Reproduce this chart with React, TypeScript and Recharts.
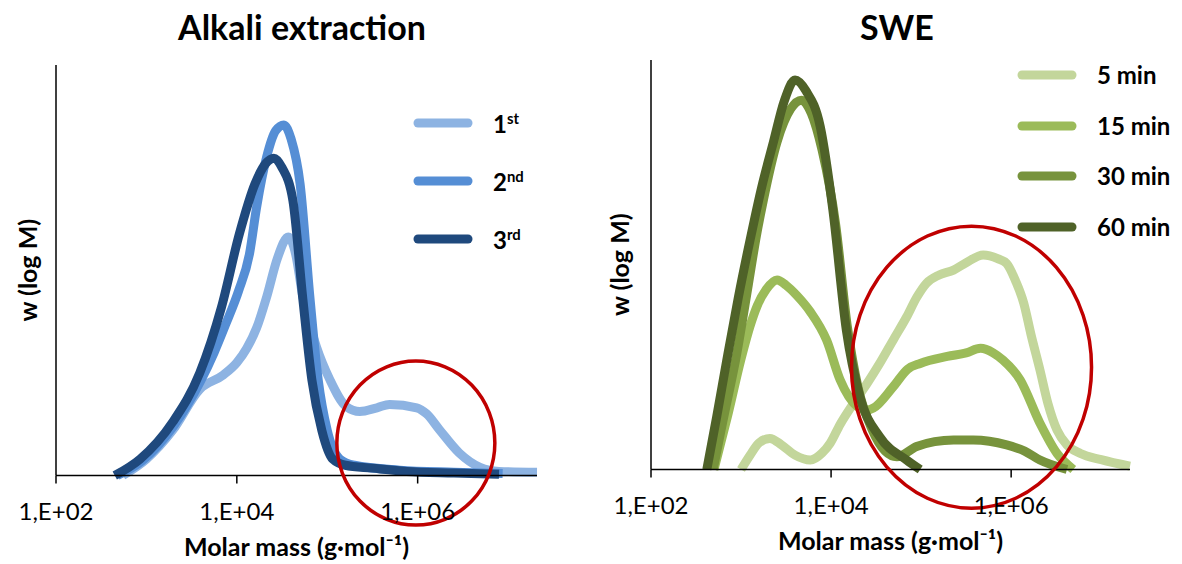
import React from 'react'
import { LineChart, Line, XAxis, YAxis, Legend, ReferenceDot, Label } from 'recharts'

// x = log10(M), y = w(log M) normalised to the axis height
const alk1st = [
  [2.74, 0], [3.0, 0.04], [3.29, 0.11], [3.59, 0.21], [3.85, 0.245], [4.0, 0.275], [4.11, 0.31],
  [4.22, 0.36], [4.33, 0.435], [4.45, 0.53], [4.57, 0.581], [4.65, 0.54], [4.73, 0.435],
  [4.88, 0.314], [5.03, 0.233], [5.21, 0.168], [5.36, 0.156], [5.55, 0.165], [5.69, 0.173],
  [5.99, 0.165], [6.1, 0.15], [6.24, 0.112], [6.46, 0.055], [6.69, 0.02], [6.9, 0.01], [7.32, 0.008],
]
const alk2nd = [
  [2.68, 0], [2.95, 0.035], [3.3, 0.12], [3.6, 0.23], [3.75, 0.3], [3.88, 0.37], [4.02, 0.45],
  [4.14, 0.54], [4.22, 0.655], [4.33, 0.776], [4.43, 0.84], [4.52, 0.854], [4.6, 0.82], [4.7, 0.71],
  [4.81, 0.43], [4.9, 0.233], [5.0, 0.11], [5.14, 0.04], [5.3, 0.025], [5.8, 0.013], [6.4, 0.008], [6.94, 0.005],
]
const alk3rd = [
  [2.65, 0], [2.93, 0.04], [3.29, 0.13], [3.59, 0.25], [3.83, 0.41], [4.03, 0.59], [4.2, 0.71],
  [4.32, 0.76], [4.41, 0.773], [4.5, 0.75], [4.62, 0.67], [4.73, 0.43], [4.83, 0.233], [4.94, 0.11],
  [5.06, 0.04], [5.2, 0.025], [5.5, 0.018], [5.88, 0.01], [6.4, 0.006], [6.9, 0.003],
]

const swe5 = [
  [3.0, 0], [3.1, 0.035], [3.2, 0.065], [3.32, 0.076], [3.45, 0.06], [3.6, 0.035], [3.77, 0.023],
  [3.9, 0.04], [3.99, 0.064], [4.1, 0.11], [4.25, 0.162], [4.4, 0.21], [4.54, 0.259], [4.7, 0.32],
  [4.84, 0.373], [4.95, 0.42], [5.06, 0.455], [5.2, 0.475], [5.36, 0.487], [5.5, 0.505], [5.69, 0.524],
  [5.85, 0.515], [5.95, 0.503], [6.05, 0.46], [6.14, 0.406], [6.22, 0.33], [6.32, 0.243], [6.41, 0.16],
  [6.51, 0.096], [6.62, 0.06], [6.77, 0.039], [7.0, 0.024], [7.32, 0.008],
]
const swe15 = [
  [2.7, 0], [2.85, 0.13], [3.0, 0.27], [3.1, 0.35], [3.18, 0.4], [3.28, 0.44], [3.4, 0.463],
  [3.5, 0.45], [3.62, 0.425], [3.77, 0.385], [3.95, 0.316], [4.1, 0.219], [4.29, 0.154], [4.4, 0.145],
  [4.47, 0.15], [4.69, 0.202], [4.85, 0.245], [4.99, 0.259], [5.29, 0.276], [5.5, 0.285], [5.66, 0.296],
  [5.8, 0.285], [5.91, 0.267], [6.1, 0.219], [6.32, 0.113], [6.51, 0.039], [6.69, 0],
]
const swe30 = [
  [2.69, 0], [2.8, 0.12], [2.95, 0.28], [3.08, 0.45], [3.17, 0.57], [3.25, 0.66], [3.4, 0.8],
  [3.55, 0.88], [3.67, 0.902], [3.78, 0.87], [3.9, 0.78], [4.05, 0.6], [4.18, 0.35], [4.3, 0.2],
  [4.45, 0.1], [4.6, 0.045], [4.73, 0.031], [4.95, 0.056], [5.15, 0.068], [5.36, 0.072], [5.58, 0.072],
  [5.95, 0.06], [6.15, 0.045], [6.32, 0.023], [6.62, 0],
]
const swe60 = [
  [2.62, 0], [2.73, 0.129], [2.84, 0.265], [2.97, 0.42], [3.1, 0.56], [3.23, 0.69], [3.36, 0.8],
  [3.48, 0.9], [3.6, 0.951], [3.72, 0.925], [3.88, 0.837], [4.02, 0.634], [4.17, 0.34], [4.32, 0.178],
  [4.54, 0.08], [4.84, 0.023], [4.99, 0],
]

const xTicks = [2, 4, 6]
const xDomain = [2, 7.32]

const F = 'Lato, "Open Sans", sans-serif'
const pts = (a: number[][]) => a.map(([x, y]) => ({ x, y }))

function LegendBox({ payload, rowH, sup }: any) {
  return (
    <div style={{ fontFamily: F, fontWeight: 700, fontSize: 24, color: '#000' }}>
      {(payload || []).map((p: any) => (
        <div key={p.value} style={{ height: rowH, display: 'flex', alignItems: 'center' }}>
          <svg width={60} height={12}>
            <line x1={5} y1={6} x2={55} y2={6} stroke={p.color} strokeWidth={9} strokeLinecap="round" />
          </svg>
          <span style={{ marginLeft: 20, lineHeight: 1 }}>
            {sup ? <>{p.value.slice(0, 1)}<sup style={{ fontSize: '62%' }}>{p.value.slice(1)}</sup></> : p.value}
          </span>
        </div>
      ))}
    </div>
  )
}

function Panel({ series, margin, width, legendPos, rowH, sup, ring, yLabelOffset }: any) {
  const names = series.map((s: any) => s.name)
  return (
    <LineChart width={width} height={564} margin={margin}>
      <XAxis type="number" dataKey="x" domain={xDomain} ticks={xTicks} tickFormatter={(v) => `1,E+0${v}`}
        height={60} tickSize={8} tickMargin={19} stroke="#000" strokeWidth={1.5}
        tick={{ fill: '#000', fontSize: 24, fontFamily: F }}>
        <Label value="Molar mass (g·mol⁻¹)" position="bottom" offset={3}
          style={{ fontFamily: F, fontWeight: 700, fontSize: 25, fill: '#000' }} />
      </XAxis>
      <YAxis type="number" domain={[0, 1]} width={56} tick={false} tickLine={false} stroke="#000" strokeWidth={1.5}>
        <Label value="w (log M)" angle={-90} position="insideLeft" offset={yLabelOffset}
          style={{ fontFamily: F, fontWeight: 700, fontSize: 25, fill: '#000', textAnchor: 'middle' }} />
      </YAxis>
      {series.map((s: any) => (
        <Line key={s.name} data={pts(s.data)} dataKey="y" name={s.name} type="monotone" stroke={s.color}
          strokeWidth={9} dot={false} activeDot={false} isAnimationActive={false} />
      ))}
      <ReferenceDot x={ring.x} y={ring.y} r={10} ifOverflow="visible"
        shape={(p: any) => <ellipse cx={p.cx} cy={p.cy} rx={ring.rx} ry={ring.ry} fill="none" stroke="#C00000" strokeWidth={3.5} />} />
      <Legend layout="vertical" align="center" verticalAlign="middle"
        itemSorter={(it: any) => names.indexOf(it.value)}
        wrapperStyle={{ left: legendPos.left, top: legendPos.top, width: 180 }}
        content={(props: any) => <LegendBox payload={props.payload} rowH={rowH} sup={sup} />} />
    </LineChart>
  )
}

const title: React.CSSProperties = {
  position: 'absolute', top: 10, fontFamily: F, fontWeight: 700, fontSize: 34,
  lineHeight: '34px', textAlign: 'center', width: 400, color: '#000',
}

export default function App() {
  return (
    <div style={{ position: 'absolute', left: 0, top: 0, width: 1182, height: 564, background: '#fff' }}>
      <div style={{ ...title, left: 302 - 200 }}>Alkali extraction</div>
      <div style={{ ...title, left: 897 - 200 }}>SWE</div>
      <div style={{ position: 'absolute', left: 0, top: 0 }}>
        <Panel width={591} margin={{ top: 65, right: 54, bottom: 28.5, left: 0 }} yLabelOffset={28}
          legendPos={{ left: 413, top: 94 }} rowH={58} sup
          ring={{ x: 5.98, y: 0.079, rx: 79, ry: 82 }}
          series={[
            { name: '1st', color: '#8DB3E2', data: alk1st },
            { name: '2nd', color: '#558ED5', data: alk2nd },
            { name: '3rd', color: '#1F497D', data: alk3rd },
          ]} />
      </div>
      <div style={{ position: 'absolute', left: 595, top: 0 }}>
        <Panel width={587} margin={{ top: 60, right: 52, bottom: 34.5, left: 0 }} yLabelOffset={25}
          legendPos={{ left: 422, top: 49.75 }} rowH={50.5} sup={false}
          ring={{ x: 5.56, y: 0.25, rx: 120, ry: 141 }}
          series={[
            { name: '5 min', color: '#C3D69B', data: swe5 },
            { name: '15 min', color: '#9BBB59', data: swe15 },
            { name: '30 min', color: '#77933C', data: swe30 },
            { name: '60 min', color: '#4F6228', data: swe60 },
          ]} />
      </div>
    </div>
  )
}
